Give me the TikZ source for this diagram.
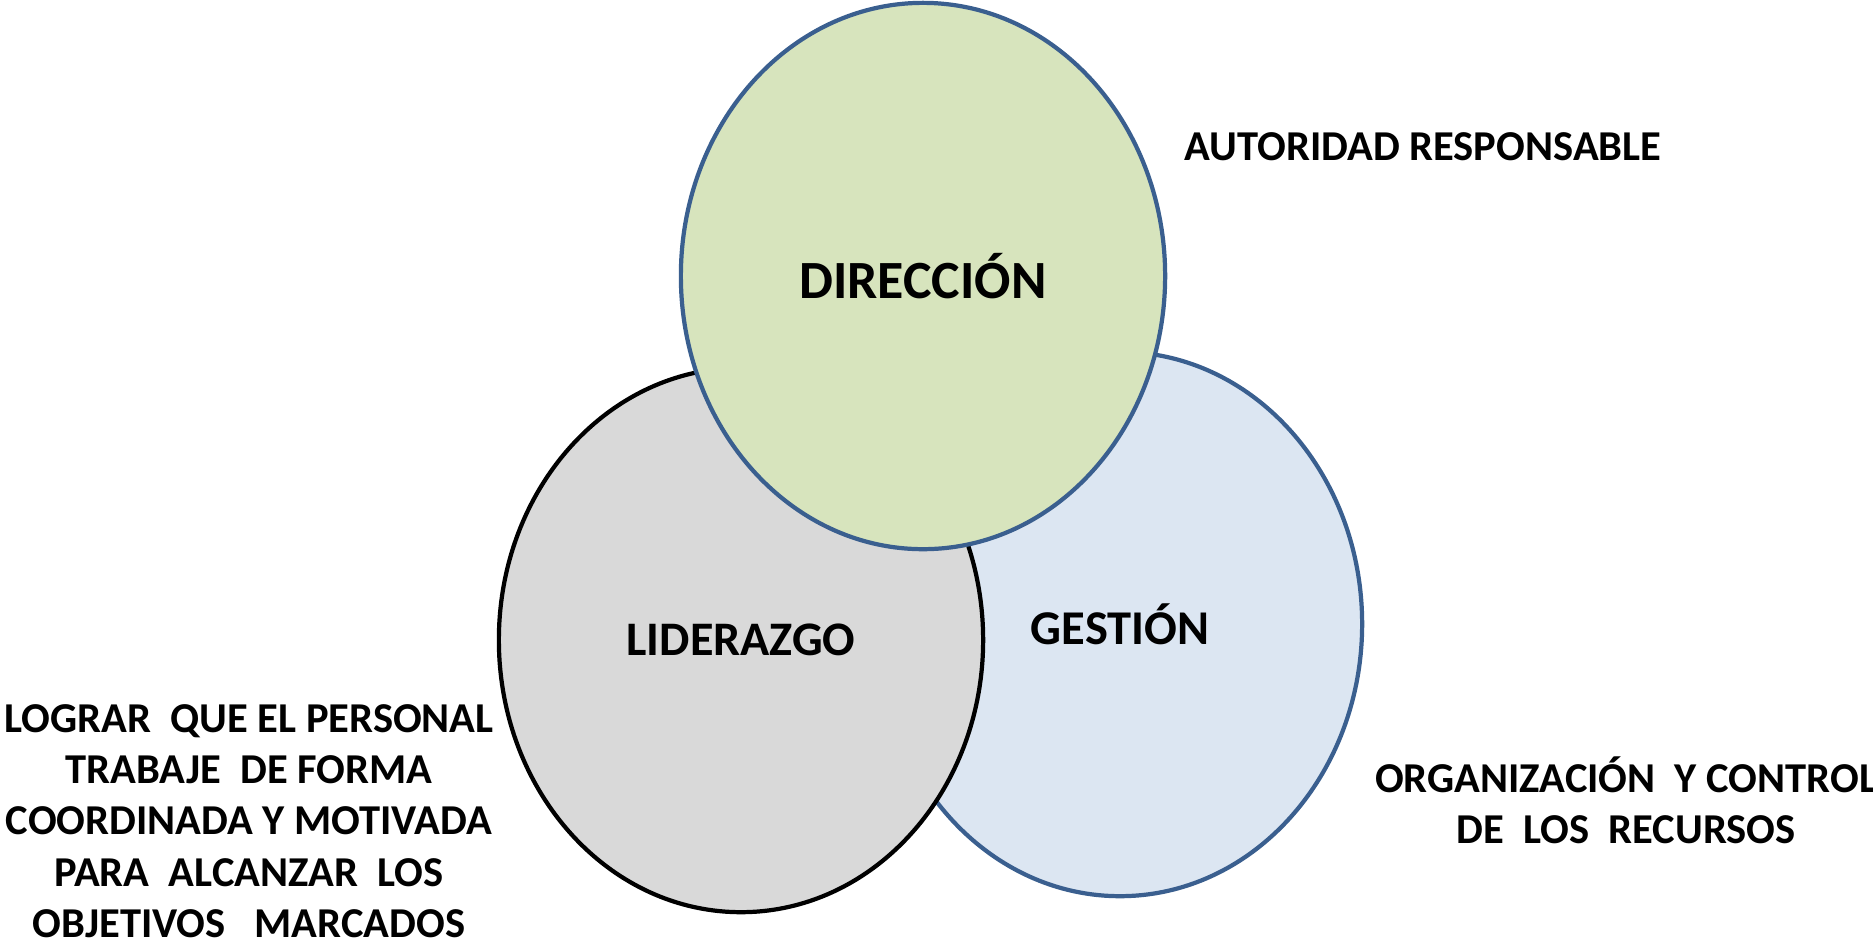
\documentclass[tikz,border=0pt]{standalone}
\usepackage{fontspec}
\setmainfont{Carlito}
\usepackage{tikz}
\usetikzlibrary{shapes,arrows}

\definecolor{borde}{HTML}{3A5F8F}
\definecolor{verde}{HTML}{D7E4BD}
\definecolor{gris}{HTML}{D9D9D9}
\definecolor{celeste}{HTML}{DCE6F2}

\begin{document}
\begin{tikzpicture}[x=0.01cm,y=-0.01cm]
\useasboundingbox (0,0) rectangle (1873,941);

\node[name=Gestion,draw=borde,fill=celeste,line width=1.2pt,ellipse,minimum width=4.84cm,minimum height=5.44cm,font=\fontsize{13.8}{16}\selectfont\bfseries] at (1120,624) {GESTIÓN};
\node[name=Liderazgo,draw=black,fill=gris,line width=1.2pt,ellipse,minimum width=4.84cm,minimum height=5.44cm,font=\fontsize{13.7}{16}\selectfont\bfseries] at (741,640) {LIDERAZGO};
\node[name=Direccion,draw=borde,fill=verde,line width=1.2pt,ellipse,minimum width=4.84cm,minimum height=5.46cm,font=\fontsize{15.3}{18}\selectfont\bfseries] at (923,276) {DIRECCIÓN};

\node[name=Autoridad,font=\fontsize{12.1}{14}\selectfont\bfseries] at (1423,147) {AUTORIDAD RESPONSABLE};
\node[name=Lograr,align=center,font=\fontsize{12.1}{14.6}\selectfont\bfseries] at (249,821) {LOGRAR~ QUE EL PERSONAL\\TRABAJE~ DE FORMA\\COORDINADA Y MOTIVADA\\PARA~ ALCANZAR~ LOS\\OBJETIVOS~~ MARCADOS};
\node[name=Organizacion,align=center,font=\fontsize{12.1}{14.6}\selectfont\bfseries] at (1626,800) {ORGANIZACIÓN~ Y CONTROL\\DE~ LOS~ RECURSOS};
\end{tikzpicture}
\end{document}
